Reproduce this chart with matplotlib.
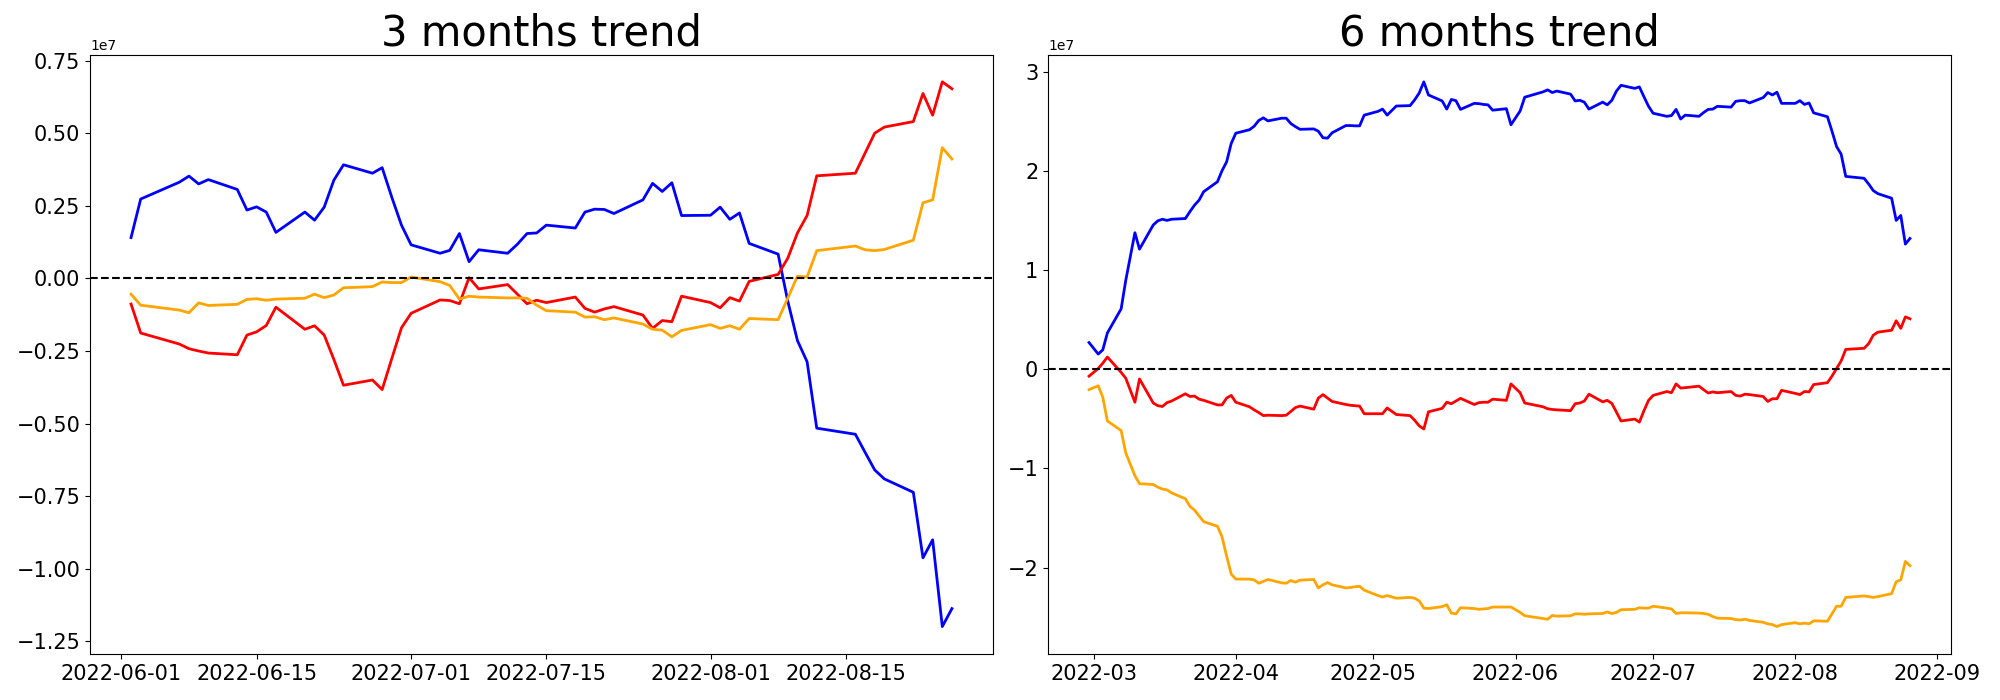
import numpy as np
import pandas as pd
import matplotlib
matplotlib.use("Agg")
import matplotlib.pyplot as plt
import matplotlib.dates as mdates

# values, in units of 1e7
SCALE = 1e7

krx_holidays = ["2022-03-01", "2022-03-09", "2022-05-05",
                "2022-06-01", "2022-06-06", "2022-08-15"]

dates_3m = pd.bdate_range("2022-06-02", "2022-08-26", freq="C", holidays=krx_holidays)
dates_6m = pd.bdate_range("2022-02-28", "2022-08-26", freq="C", holidays=krx_holidays)

blue_3m = [0.141, 0.274, 0.332, 0.353, 0.326, 0.341, 0.307, 0.236, 0.247, 0.229,
           0.159, 0.229, 0.201, 0.246, 0.339, 0.392, 0.363, 0.382, 0.280, 0.184,
           0.116, 0.087, 0.097, 0.155, 0.058, 0.099, 0.087, 0.118, 0.155, 0.157,
           0.184, 0.174, 0.229, 0.239, 0.238, 0.224, 0.271, 0.328, 0.300, 0.330,
           0.217, 0.218, 0.246, 0.204, 0.226, 0.121, 0.084, -0.078, -0.214, -0.287,
           -0.516, -0.537, -0.599, -0.660, -0.691, -0.737, -0.963, -0.901, -1.200, -1.138]
red_3m = [-0.088, -0.188, -0.226, -0.242, -0.250, -0.257, -0.263, -0.195, -0.184, -0.162,
          -0.099, -0.175, -0.163, -0.195, -0.279, -0.368, -0.350, -0.383, -0.276, -0.170,
          -0.120, -0.074, -0.076, -0.087, 0.003, -0.036, -0.021, -0.054, -0.087, -0.075,
          -0.083, -0.064, -0.103, -0.116, -0.105, -0.097, -0.126, -0.172, -0.145, -0.149,
          -0.061, -0.083, -0.101, -0.066, -0.078, -0.010, 0.014, 0.070, 0.157, 0.217,
          0.354, 0.363, 0.432, 0.501, 0.522, 0.541, 0.638, 0.563, 0.678, 0.654]
orange_3m = [-0.054, -0.092, -0.109, -0.118, -0.084, -0.093, -0.089, -0.072, -0.070, -0.075,
             -0.071, -0.068, -0.054, -0.066, -0.057, -0.032, -0.028, -0.012, -0.014, -0.014,
             0.005, -0.011, -0.024, -0.071, -0.061, -0.064, -0.067, -0.067, -0.068, -0.092,
             -0.111, -0.116, -0.133, -0.132, -0.142, -0.136, -0.157, -0.175, -0.178, -0.201,
             -0.179, -0.159, -0.172, -0.163, -0.175, -0.138, -0.142, -0.068, 0.008, 0.005,
             0.096, 0.112, 0.099, 0.096, 0.100, 0.132, 0.261, 0.271, 0.451, 0.412]

blue_6m = [0.270, 0.154, 0.197, 0.367, 0.610, 0.896, 1.378, 1.212, 1.456, 1.498,
           1.514, 1.502, 1.514, 1.521, 1.591, 1.656, 1.707, 1.792, 1.892, 2.004,
           2.093, 2.278, 2.382, 2.417, 2.452, 2.510, 2.537, 2.506, 2.533, 2.533,
           2.479, 2.448, 2.421, 2.425, 2.402, 2.336, 2.332, 2.386, 2.459, 2.459,
           2.456, 2.456, 2.564, 2.602, 2.625, 2.564, 2.656, 2.660, 2.718, 2.788,
           2.900, 2.768, 2.707, 2.625, 2.722, 2.710, 2.622, 2.683, 2.680, 2.672,
           2.668, 2.614, 2.629, 2.467, 2.606, 2.745, 2.799, 2.819, 2.792, 2.807,
           2.776, 2.707, 2.714, 2.695, 2.625, 2.695, 2.668, 2.714, 2.807, 2.865,
           2.834, 2.849, 2.749, 2.653, 2.583, 2.552, 2.560, 2.622, 2.525, 2.564,
           2.552, 2.590, 2.622, 2.625, 2.653, 2.645, 2.703, 2.710, 2.710, 2.687,
           2.741, 2.792, 2.768, 2.795, 2.683, 2.683, 2.710, 2.672, 2.687, 2.587,
           2.548, 2.402, 2.247, 2.170, 1.946, 1.927, 1.869, 1.803, 1.772, 1.726,
           1.502, 1.552, 1.263, 1.320]
red_6m = [-0.069, 0.008, 0.062, 0.124, -0.031, -0.089, -0.332, -0.097, -0.340, -0.367,
          -0.375, -0.336, -0.320, -0.247, -0.274, -0.270, -0.301, -0.313, -0.359, -0.359,
          -0.290, -0.263, -0.332, -0.378, -0.409, -0.436, -0.467, -0.463, -0.467, -0.463,
          -0.425, -0.386, -0.371, -0.402, -0.290, -0.255, -0.290, -0.324, -0.355, -0.363,
          -0.367, -0.371, -0.448, -0.448, -0.448, -0.390, -0.456, -0.467, -0.514, -0.571,
          -0.602, -0.429, -0.394, -0.332, -0.347, -0.320, -0.293, -0.355, -0.336, -0.332,
          -0.332, -0.301, -0.313, -0.147, -0.236, -0.340, -0.378, -0.398, -0.405, -0.409,
          -0.417, -0.347, -0.340, -0.320, -0.251, -0.328, -0.313, -0.344, -0.432, -0.521,
          -0.502, -0.533, -0.417, -0.313, -0.263, -0.224, -0.236, -0.147, -0.189, -0.185,
          -0.170, -0.205, -0.239, -0.228, -0.236, -0.224, -0.263, -0.270, -0.251, -0.255,
          -0.274, -0.324, -0.297, -0.297, -0.212, -0.243, -0.255, -0.224, -0.228, -0.154,
          -0.135, -0.069, 0.008, 0.085, 0.201, 0.212, 0.259, 0.344, 0.375, 0.394,
          0.490, 0.413, 0.529, 0.510]
orange_6m = [-0.205, -0.166, -0.282, -0.521, -0.618, -0.842, -1.073, -1.154, -1.162, -1.189,
             -1.208, -1.216, -1.247, -1.305, -1.382, -1.421, -1.479, -1.537, -1.583, -1.691,
             -1.884, -2.066, -2.116, -2.116, -2.124, -2.158, -2.139, -2.120, -2.154, -2.158,
             -2.131, -2.147, -2.127, -2.120, -2.205, -2.174, -2.151, -2.174, -2.205, -2.201,
             -2.193, -2.189, -2.228, -2.282, -2.297, -2.282, -2.309, -2.301, -2.309, -2.336,
             -2.409, -2.413, -2.394, -2.375, -2.459, -2.467, -2.405, -2.413, -2.421, -2.417,
             -2.413, -2.398, -2.398, -2.398, -2.452, -2.486, -2.514, -2.521, -2.483, -2.490,
             -2.486, -2.467, -2.467, -2.471, -2.467, -2.463, -2.448, -2.463, -2.452, -2.425,
             -2.421, -2.405, -2.409, -2.409, -2.390, -2.409, -2.417, -2.463, -2.456, -2.456,
             -2.459, -2.463, -2.471, -2.494, -2.510, -2.514, -2.525, -2.529, -2.521, -2.533,
             -2.552, -2.568, -2.575, -2.595, -2.575, -2.556, -2.568, -2.560, -2.568, -2.537,
             -2.541, -2.467, -2.390, -2.390, -2.301, -2.286, -2.293, -2.301, -2.293, -2.263,
             -2.143, -2.124, -1.938, -1.981]

titles = ["3 months trend", "6 months trend"]


def draw_panel(ax, dates, blue, red, orange, title):
    ax.plot(dates, np.array(blue) * SCALE, color="blue", linewidth=2)
    ax.plot(dates, np.array(red) * SCALE, color="red", linewidth=2)
    ax.plot(dates, np.array(orange) * SCALE, color="orange", linewidth=2)
    ax.axhline(0, color="black", linestyle="--", linewidth=1.5)
    ax.set_title(title, fontsize=30)
    ax.tick_params(axis="both", labelsize=15)


fig = plt.figure(figsize=(20, 7), dpi=100)
ax1 = fig.add_axes([0.045, 0.066, 0.4515, 0.856])
ax2 = fig.add_axes([0.524, 0.066, 0.4515, 0.856])

draw_panel(ax1, dates_3m, blue_3m, red_3m, orange_3m, titles[0])
draw_panel(ax2, dates_6m, blue_6m, red_6m, orange_6m, titles[1])

ax1.xaxis.set_major_locator(mdates.DayLocator(bymonthday=[1, 15]))
ax1.xaxis.set_major_formatter(mdates.DateFormatter("%Y-%m-%d"))
ax2.xaxis.set_major_locator(mdates.MonthLocator())
ax2.xaxis.set_major_formatter(mdates.DateFormatter("%Y-%m"))

fig.savefig("out.png", dpi=100)
